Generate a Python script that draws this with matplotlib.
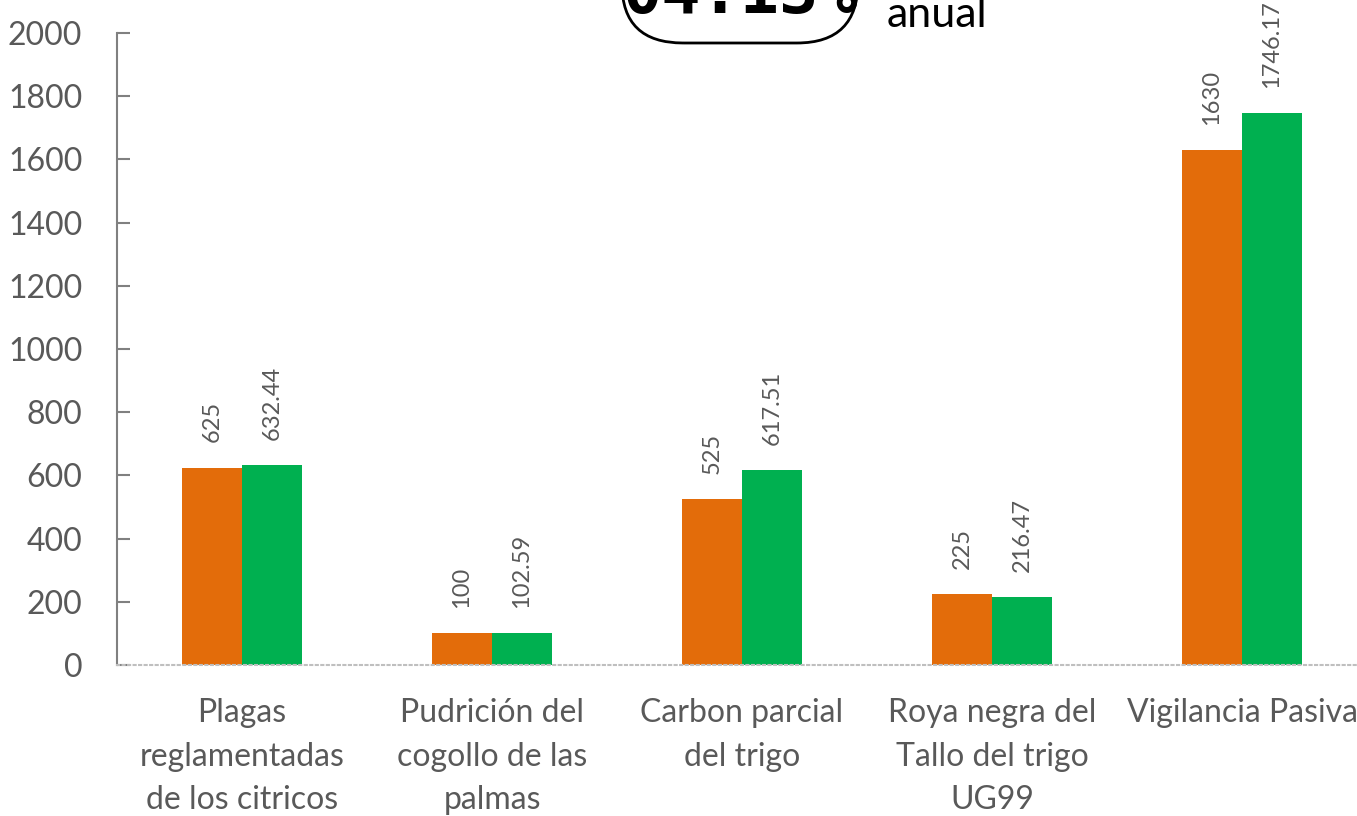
import numpy as np
import matplotlib.pyplot as plt
from matplotlib.patches import FancyBboxPatch

categorias = ['Plagas\nreglamentadas\nde los citricos',
              'Pudrición del\ncogollo de las\npalmas',
              'Carbon parcial\ndel trigo',
              'Roya negra del\nTallo del trigo\nUG99',
              'Vigilancia Pasiva']
programado = [625, 100, 525, 225, 1630]
ejecutado = [632.44, 102.59, 617.51, 216.47, 1746.17]
etiq_prog = ['625', '100', '525', '225', '1630']
etiq_ejec = ['632.44', '102.59', '617.51', '216.47', '1746.17']

naranja = '#E36C0A'
verde = '#00B050'
gris = '#595959'

plt.rcParams['font.family'] = ['Lato', 'DejaVu Sans']

fig = plt.figure(figsize=(13.57, 8.16), dpi=100)
W, H = 1357, 816
ax = fig.add_axes([117 / W, 1 - 665 / H, 1250 / W, 632 / H])

x = np.arange(len(categorias))
w = 0.24
b1 = ax.bar(x - w / 2, programado, w, color=naranja)
b2 = ax.bar(x + w / 2, ejecutado, w, color=verde)

for bars, labs in ((b1, etiq_prog), (b2, etiq_ejec)):
    for b, t in zip(bars, labs):
        ax.annotate(t, (b.get_x() + b.get_width() / 2, b.get_height()),
                    xytext=(0, 18), textcoords='offset points',
                    rotation=90, ha='center', va='bottom',
                    fontsize=17, color=gris)

ax.set_xlim(-0.5, 4.5)
ax.set_ylim(0, 2000)
ax.set_yticks(np.arange(0, 2001, 200))
ax.tick_params(axis='y', direction='in', length=9, width=1.5, color='#808080',
               labelsize=23, labelcolor=gris, pad=25)
ax.set_xticks(x)
ax.set_xticklabels(categorias, fontsize=23, color=gris, linespacing=1.55)
ax.tick_params(axis='x', length=0, pad=24)
ax.spines['top'].set_visible(False)
ax.spines['right'].set_visible(False)
ax.spines['left'].set_color('#808080')
ax.spines['left'].set_linewidth(1.5)
ax.spines['bottom'].set_color('#BFBFBF')
ax.spines['bottom'].set_linewidth(1.5)
ax.spines['bottom'].set_linestyle(':')

# caja recortada en la parte superior
caja = FancyBboxPatch((622 / W, 1 - 43 / H), 236 / W, 120 / H,
                      boxstyle='round,pad=0,rounding_size=0.045',
                      transform=fig.transFigure, fill=False, lw=2,
                      ec='black', mutation_aspect=W / H)
fig.patches.append(caja)
fig.text(740 / W, 1 - 13 / H, '04.13%', fontsize=47, fontweight='bold',
         family='DejaVu Sans Mono', ha='center', va='baseline')
fig.text(887 / W, 1 - 27 / H, 'anual', fontsize=31, ha='left', va='baseline')

fig.savefig('out.png', dpi=100)
